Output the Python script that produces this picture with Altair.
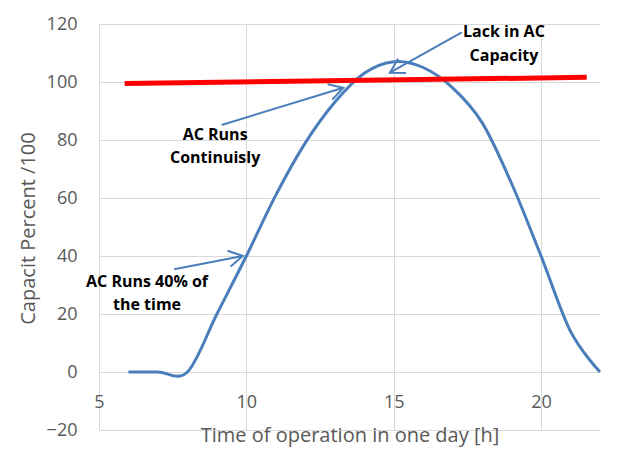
import math
import altair as alt
import pandas as pd

# ---- data ----
hours = [6, 7, 8, 9, 10, 11, 12, 13, 14, 15, 16, 17, 18, 19, 20, 21, 22]
capacity = [0, 0, 0, 20, 40, 61, 79, 93, 103, 107, 105, 98, 86, 65, 40, 14, 0]

ac_x = [5.87, 21.55]
ac_y = [99.5, 101.6]

arrow_x0 = [7.55, 9.16, 17.31]
arrow_y0 = [35.4, 85.2, 117.1]
arrow_x1 = [9.88, 13.29, 14.87]
arrow_y1 = [40.0, 98.0, 103.2]

note_text = ["AC Runs 40% of", "the time", "AC Runs", "Continuisly", "Lack in AC", "Capacity"]
note_x = [6.63, 6.63, 8.94, 8.94, 18.74, 18.74]
note_y = [31.0, 23.1, 81.7, 73.7, 117.1, 109.0]

x_ticks = [5, 10, 15, 20]
y_ticks = [-20, 0, 20, 40, 60, 80, 100, 120]

# ---- layout ----
W, H = 501, 406
X_DOM = [5, 22]
Y_DOM = [-20, 120]
BLUE = "#4A7EBB"
GRID = "#d9d9d9"
TXT = "#595959"
FONT = "Open Sans"

sx = W / (X_DOM[1] - X_DOM[0])
sy = H / (Y_DOM[1] - Y_DOM[0])

curve_df = pd.DataFrame({"h": hours, "c": capacity})
ac_df = pd.DataFrame({"h": ac_x, "c": ac_y})
arrow_df = pd.DataFrame({"x0": arrow_x0, "y0": arrow_y0, "x1": arrow_x1, "y1": arrow_y1})
arrow_df["ang"] = [
    math.degrees(math.atan2(-(b1 - b0) * sy, (a1 - a0) * sx)) % 360
    for a0, b0, a1, b1 in zip(arrow_x0, arrow_y0, arrow_x1, arrow_y1)
]
note_df = pd.DataFrame({"x": note_x, "y": note_y, "t": note_text})

xs = alt.Scale(domain=X_DOM, nice=False, zero=False)
ys = alt.Scale(domain=Y_DOM, nice=False, zero=False)

x_axis = alt.Axis(
    values=x_ticks, offset=-58, ticks=False, domainColor=GRID, domainWidth=1,
    labelPadding=21, labelFontSize=18, labelColor=TXT, labelFont=FONT, labelFlush=False,
    title="Time of operation in one day [h]", titleFont=FONT, titleFontSize=20,
    titleFontWeight="normal", titleColor=TXT, titleY=53, titleBaseline="top",
    grid=True, gridColor=GRID, gridWidth=1,
)
y_axis = alt.Axis(
    values=y_ticks, ticks=False, domain=False,
    labelPadding=22, labelFontSize=18, labelColor=TXT, labelFont=FONT,
    title="Capacit Percent /100", titleFont=FONT, titleFontSize=20,
    titleFontWeight="normal", titleColor=TXT, titleX=-71, titleY=204,
    titleBaseline="middle", titleAngle=270,
    grid=True, gridColor=GRID, gridWidth=1,
)

curve = alt.Chart(curve_df).mark_line(
    color=BLUE, strokeWidth=3, interpolate="cardinal", tension=0
).encode(
    x=alt.X("h:Q", scale=xs, axis=x_axis),
    y=alt.Y("c:Q", scale=ys, axis=y_axis),
)

ac_line = alt.Chart(ac_df).mark_line(color="#FF0000", strokeWidth=5).encode(
    x=alt.X("h:Q", scale=xs), y=alt.Y("c:Q", scale=ys)
)

shafts = alt.Chart(arrow_df).mark_rule(color=BLUE, strokeWidth=2).encode(
    x=alt.X("x0:Q", scale=xs), y=alt.Y("y0:Q", scale=ys),
    x2="x1:Q", y2="y1:Q",
)
heads = alt.Chart(arrow_df).mark_point(
    shape="M -1 -0.577 L 0 0 L -1 0.577", filled=False, color=BLUE,
    strokeWidth=2, size=780, opacity=1,
).encode(
    x=alt.X("x1:Q", scale=xs), y=alt.Y("y1:Q", scale=ys), angle=alt.Angle("ang:Q", scale=None)
)

notes = alt.Chart(note_df).mark_text(
    font=FONT, fontSize=16, fontWeight="bold", color="black", align="center", baseline="middle"
).encode(
    x=alt.X("x:Q", scale=xs), y=alt.Y("y:Q", scale=ys), text="t:N"
)

chart = alt.layer(curve, ac_line, shafts, heads, notes).properties(
    width=W, height=H,
    autosize=alt.AutoSizeParams(type="none"),
    padding={"left": 91, "top": 16, "right": 14, "bottom": 21},
    background="white",
).configure_view(stroke=None)

chart.save("out.html", embed_options={"renderer": "svg", "actions": False})
